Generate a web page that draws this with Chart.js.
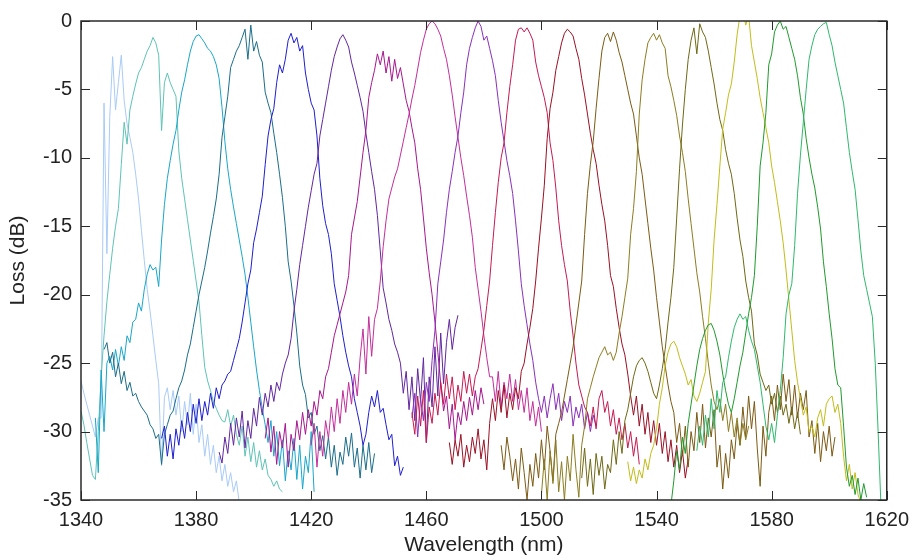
<!DOCTYPE html>
<html>
<head>
<meta charset="utf-8">
<title>Filter loss spectra</title>
<script src="https://cdn.jsdelivr.net/npm/chart.js@4.4.1/dist/chart.umd.min.js"></script>
<style>
  html, body { margin: 0; padding: 0; background: #fff; }
  #wrap { width: 917px; height: 559px; }
</style>
</head>
<body>
<div id="wrap"><canvas id="lossChart" width="917" height="559"></canvas></div>
<script>
// Axis ticks
const xTicks = [1340, 1380, 1420, 1460, 1500, 1540, 1580, 1620];
const yTicks = [-35, -30, -25, -20, -15, -10, -5, 0];

// First wavelength (nm) of each channel trace, sampled every 1 nm
const startNm = [1340, 1340, 1345, 1348, 1368, 1388, 1404, 1420, 1455, 1455, 1468, 1486, 1500, 1514, 1530, 1545, 1554];

// Loss (dB) per channel
const ch01 = [
  -26.3, -27.2, -28, -28.8, -29.6, -30.4, -29, -29, -6, -17,
  -7, -2.6, -6.5, -4.5, -2.5, -5.8, -7.5, -8.5, -9.6, -11.2,
  -13, -15.3, -17.5, -19.6, -21.2, -23, -24.8, -26.5, -32.5, -27.5,
  -26.8, -28.4, -27, -28.8, -27.4, -30, -27.8, -29.5, -27.2, -30.2,
  -28, -30.8, -29.5, -31.8, -30.2, -32.4, -31, -33, -31.8, -33.6,
  -32.4, -34, -33, -34.4, -33.6, -35.2
];
const ch02 = [
  -28.5, -29.5, -30.8, -32, -33.2, -33.5, -30, -26, -23, -20.5,
  -18.5, -16.6, -15, -13.7, -10.5, -7.4, -9, -6.5, -5.5, -4.6,
  -3.8, -3.4, -2.8, -2.2, -1.8, -1.2, -1.6, -2.5, -8, -4.5,
  -3.8, -4.5, -5, -5.5, -9.5, -11.5, -13, -14.5, -16, -17.5,
  -19, -20.5, -23, -25.3, -26.3, -27, -27.8, -28.3, -28.8, -29.2,
  -29.3, -28.4, -29.6, -28.8, -30.2, -31, -29.6, -31.8, -30.4, -32.2,
  -30.8, -32.6, -31.4, -32.8, -32, -33.2, -33.5, -34, -33.6, -34.2,
  -34.4
];
const ch03 = [
  -29, -33, -25.5, -30, -25,
  -24.5, -25.5, -24, -25.2, -23.8, -24.8, -23, -23.5, -22, -21.8,
  -20.6, -21.2, -19.6, -18.5, -17.8, -18.2, -18, -19.4, -16, -13.4,
  -11.5, -10.2, -9, -8, -6.5, -5.2, -4.3, -3.2, -2.2, -1.5,
  -1.1, -1, -1.3, -1.6, -2, -2.2, -2.6, -3.2, -4.2, -6.3,
  -8.8, -10.8, -12.3, -13.6, -14.8, -16, -17.2, -18.5, -20.2, -22,
  -23.8, -25.5, -27, -28.3, -29.5, -30.8, -29.2, -31.8, -30, -32.5,
  -30.6, -33.6, -31.4, -32.8, -30.5, -33.5, -31, -34.2, -31.8, -33,
  -30, -34.4
];
const ch04 = [
  -24, -23.5, -25, -24.2, -26, -25, -26.5, -25.6, -27, -26.4,
  -27.4, -27.2, -27.8, -28.2, -28.5, -28.8, -29.5, -29.8, -30.5, -30.2,
  -32.4, -30.2, -29.5, -28.8, -28.5, -27.6, -26.8, -26.3, -25.5, -24.4,
  -23.6, -22.4, -21.2, -20, -19, -18, -16.8, -15.5, -14.3, -13,
  -11.2, -8.5, -7, -5.5, -3.4, -2.8, -2.2, -1.8, -1.2, -0.6,
  -2.8, -0.3, -2.2, -1.5, -2.5, -3, -5.2, -6, -6.7, -8.2,
  -9.6, -11.2, -12.9, -15, -17.6, -19, -20.8, -22.8, -25.2, -26.6,
  -27.3, -29, -28.6, -30.2, -29.6, -31.4, -30.3, -32, -30.4, -32.6,
  -31, -33.2, -31.5, -32.4, -30.4, -31.8, -30.1, -32.6, -31.2, -33.4,
  -31, -32.8, -30.8, -33, -31.6
];
const ch05 = [
  -30.5, -29.6, -31.8, -30.2, -32, -29.8, -31, -29.2, -30.5, -28.6,
  -30, -28, -29.4, -27.6, -29.2, -27.8, -28.8, -27.2, -28.3, -26.8,
  -27.6, -26.6, -26.3, -25.8, -25.6, -24.8, -24, -23.2, -22, -20.6,
  -19.2, -18.2, -16.2, -15.2, -14, -12.8, -10.5, -8.4, -7.2, -6.4,
  -4.5, -3.2, -3.8, -2.8, -1.4, -0.9, -1.6, -1.2, -2.2, -1.8,
  -3.8, -5, -6, -6.5, -8.4, -11.5, -13.5, -14.8, -15.6, -17,
  -19.2, -20.4, -21.6, -23, -24.2, -25.2, -26, -27.6, -28.6, -29.6,
  -31, -30.2, -28.6, -27.4, -28.2, -27, -28.6, -28.3, -29.5, -30.6,
  -30.2, -32.5, -31.8, -33.2, -32.6
];
const ch06 = [
  -31.5, -32.3, -30.4, -31.6, -29.4, -31, -29, -30.4, -28.5, -31.2,
  -29.2, -30.5, -28.3, -29.6, -27.5, -28.8, -27.2, -28.2, -26.6, -27.8,
  -26.4, -27, -25.8, -25, -24.4, -23.2, -21.2, -19.6, -17.8, -16.4,
  -15, -13.6, -12.4, -11.2, -10.4, -8.4, -7.2, -6, -4.8, -3.6,
  -2.6, -1.9, -1.3, -1, -1.4, -1.9, -3, -3.8, -4.7, -5.6,
  -6.6, -8.2, -9.6, -11, -12.3, -14.2, -16.8, -19.5, -20.6, -21.8,
  -22.6, -23.6, -24.2, -25, -27.2, -25.6, -28.4, -26, -29.2, -25.4,
  -27.8, -24.6, -30.8, -26, -28.2, -23.8, -27.4, -22.8, -26.5, -23.5,
  -21.8, -24, -22.4, -21.5
];
const ch07 = [
  -30.5, -29, -31.5, -29.6, -32.4, -30, -31.2, -29.4, -32.6, -30.2,
  -31.4, -29.2, -30.6, -28.6, -30.2, -28.4, -29.6, -27.8, -28.8, -27,
  -27.6, -26, -25.4, -24.2, -23, -22.2, -21.4, -20.6, -19.8, -18.6,
  -15.6, -14.4, -13.2, -11.4, -9.6, -8, -5.6, -4.5, -3.6, -2.4,
  -3.2, -2.2, -3.8, -2.6, -4.4, -2.8, -4.2, -3.4, -4.6, -5.8,
  -6.6, -7.8, -8.9, -10.8, -12.3, -14.4, -16.6, -18.4, -20, -22,
  -24.2, -26.5, -28.5, -27.4, -29.8, -28, -30.6, -28.6, -29.5, -27.8,
  -29.2, -27.5, -28.8, -27, -28.4, -26.8, -28
];
const ch08 = [
  -31, -29.4, -32.6, -30, -31.8, -29.2, -30.5, -28.2, -30, -27.6,
  -29.4, -27, -28.6, -26.4, -28, -25.8, -27.4, -24.6, -22.5, -25.8,
  -21.6, -24.5, -21.8, -21, -19, -16.5, -14.6, -13, -12.2, -11.4,
  -10.8, -9.8, -8.8, -7.8, -6.8, -5.7, -4.7, -3.5, -2.3, -1.4,
  -0.6, -0.2, 0, -0.2, -0.6, -1.1, -2, -2.8, -4, -5.4,
  -7, -8.5, -10, -11.3, -12.8, -14.2, -15.8, -18, -19.6, -21.2,
  -23, -24.6, -26, -26, -27.8, -25.6, -28.2, -26.4, -27.6, -25.8,
  -27.8, -26.2, -28.4, -27, -28.6, -26.8, -29.2, -27.8, -29.6, -28.2,
  -30
];
const ch09 = [
  -29, -27.2, -30.4, -27.6, -29.2, -26.4, -27.8, -24.8, -22.6, -19.2,
  -17.6, -16, -14, -12.3, -11, -9.6, -8.4, -6.7, -5.2, -3.2,
  -2, -1.2, -0.5, 0, -0.4, -1.4, -1.1, -2, -2.9, -4,
  -5.8, -7.4, -8.8, -10.2, -11.3, -12.6, -14.6, -16.8, -19.2, -20.8,
  -22.2, -23.6, -24.8, -26.4, -27.6, -28.6, -27.4, -29, -27.6, -26.5,
  -28.4, -27.2, -29.2, -27.8, -28.6, -27.4, -29.6, -28.2, -29, -28,
  -29.8, -28.6, -30, -28.8, -29.6
];
const ch10 = [
  -28.6, -30.2, -27.4, -29.6, -27, -30.8, -28.2, -29.4, -27.2, -28.8,
  -26.4, -28, -25.8, -27.6, -26, -28.4, -26.6, -27.8, -25.6, -27.2,
  -25.8, -27.4, -26, -25.4, -24, -22.6, -20.8, -19, -16.4, -14,
  -11.8, -10, -8.9, -6.7, -4.8, -3.2, -1.4, -0.6, -0.5, -0.8,
  -0.5, -0.9, -1.4, -3, -4, -4.8, -5.6, -6.7, -8.9, -10.2,
  -12.2, -14.6, -16.4, -17.8, -19, -21.2, -23, -25, -26.6, -27.4,
  -28.2, -28.6, -29.6, -28.2, -29.8, -27.6, -27, -28.6, -27.8, -29.6,
  -28.4, -30.2, -29, -30.6, -29.4, -31.2, -30, -31.8, -30.4, -32.4
];
const ch11 = [
  -30.8, -32.4, -30.6, -31.8, -30.2, -32.6, -31, -32.2, -30.4, -31.6,
  -29.8, -32, -30.6, -32.8, -29.4, -27.6, -29.2, -27, -28.6, -26.6,
  -29, -27.2, -28.4, -26.8, -27.6, -25.6, -25, -23.6, -22.4, -21,
  -19, -16.6, -14.4, -12, -8.6, -6.4, -5.2, -3.6, -2.6, -1.6,
  -0.9, -0.6, -0.8, -1.1, -2, -2.8, -4.2, -5.4, -6.8, -8.2,
  -9.4, -10.4, -12, -13.4, -14.6, -16.4, -18.6, -19.4, -21, -22.4,
  -23.6, -24.4, -25.8, -27.4, -28.8, -27.4, -29.6, -28, -30.2, -28.6,
  -30.8, -29.2, -31, -29.4, -31.6, -30, -32.2, -30.6, -32.6, -31,
  -33, -31.4, -33.4, -32
];
const ch12 = [
  -31, -32.8, -30.4, -31.8, -33.6, -32, -34.2, -31.2, -33, -35,
  -32.4, -34, -31.6, -33.4, -30.6, -32.8, -29.6, -31.4, -33.6, -30.2,
  -29.4, -28.6, -27.4, -26.2, -25, -23.8, -22.2, -20.6, -19, -15.6,
  -12.6, -10.5, -8.8, -6.4, -4.2, -2.2, -1.2, -0.9, -1.5, -0.8,
  -1.4, -2.3, -3, -4, -5, -6, -6.8, -8.4, -10, -11.2,
  -13, -14.8, -16.6, -18.2, -20.2, -22, -23.8, -25.2, -26.6, -27.8,
  -28.6, -30.8, -29.4, -31.8, -29.6, -32.6, -30, -31.4, -28.6, -30.8,
  -28, -31.2, -29, -30.4, -28.4, -32.6, -31, -34.2, -31.6, -33.4,
  -30.6, -32, -29.4, -31, -28.2, -30.4, -27.4, -29.8, -27.8, -31.2,
  -34, -29.6, -31.8, -28.6, -27.4, -29.2, -26.6, -28.4, -25.8, -27.8,
  -26.2, -28.8, -26.6, -29, -27.2, -28.4, -27, -30.4, -29.2, -31.6,
  -29.4, -32.2, -30, -31.4, -29.6, -31.8, -30.4
];
const ch13 = [
  -34.6, -32, -35, -31.4, -33.8, -30.6, -34.4, -32.2, -35, -31.8,
  -33.6, -30.2, -32.8, -34.8, -31, -29.6, -27.6, -26.8, -26, -25.3,
  -24.6, -24.2, -23.8, -24.4, -24.2, -24.8, -24.2, -22.8, -21.6, -20.2,
  -18.8, -15.6, -13.7, -11, -6.8, -4.3, -2.8, -1.6, -1.2, -0.9,
  -1.4, -1, -1.6, -2, -4, -4.8, -5.8, -6.9, -8.4, -9.6,
  -11, -13, -14.8, -16.6, -18.4, -19.8, -21.6, -23.2, -25, -26.6,
  -27.8, -28.4, -27.6, -29.2, -28, -30, -28.6, -30.4, -29, -31,
  -29.4, -30.6, -29.6
];
const ch14 = [
  -33.4, -31.2, -34, -32, -34.6, -31.6, -33.2, -31.8, -34.2, -32.4,
  -33, -30.6, -32.4, -30, -31.6, -29.2, -28.4, -27.2, -26, -25.2,
  -24.8, -24.6, -25, -25.6, -26.4, -27.2, -27.6, -26.6, -25.4, -24,
  -22, -20.2, -18, -14.4, -10.8, -7.6, -5, -2.8, -1.4, -0.5,
  -2.4, -0.2, -0.8, -1.2, -2.2, -3.4, -4.6, -6, -7.2, -8,
  -9.4, -10.4, -11.2, -12.6, -14.4, -16, -17.2, -19, -20.2, -21.2,
  -23.6, -24.4, -25.8, -26.4, -27, -26.6, -28, -27.2, -28.6, -27.4,
  -28.8, -28, -29.4, -28.2, -29.8, -28.6, -30.2
];
const ch15 = [
  -32.2, -33.6, -32.6, -33.8, -32.8, -33.4, -32, -32.8, -31.6, -31,
  -29.8, -28, -26.8, -25.2, -24.2, -23.6, -23.4, -23.8, -24.6, -25.2,
  -25.8, -26.6, -26.2, -27.4, -27.8, -27.2, -26.4, -25.6, -22, -19.6,
  -16, -13.4, -10.6, -7.9, -6.7, -5.4, -4.6, -3, -1, 0.4,
  0.8, -0.3, 0.4, -1.8, -3, -4.2, -5.6, -6.7, -7.8, -8.9,
  -10.6, -11.8, -13.2, -14.6, -16.2, -18.2, -20.4, -22.6, -24.8, -26.4,
  -27.6, -28.8, -28.2, -30, -29.6, -30.4, -29, -28.4, -29.6, -28,
  -27.6, -27.4, -28.6, -28, -29.4, -31.8, -33.6, -32.4, -34.2, -33,
  -34.6, -35.2
];
const ch16 = [
  -35.4, -33.6, -31.4, -32.8, -30.4, -31.6, -29.4, -28, -26.6, -25.2,
  -24, -23.2, -22.6, -22.2, -22.1, -22.6, -23.4, -24.4, -25.8, -27,
  -28, -28.6, -27.6, -26.4, -25.2, -24.2, -22.8, -21.4, -20.2, -18.6,
  -15, -10.6, -8.9, -6.7, -3.2, -2.4, -0.8, -0.3, 0, -0.6,
  -0.4, -1.2, -2, -2.8, -4, -5.6, -6.8, -8.6, -10, -11.2,
  -12.2, -13.6, -15.2, -17.6, -19.4, -21.4, -23.2, -25.4, -26.6, -26.8,
  -29.6, -32.6, -34, -33.2, -34.6, -33.4, -35, -33.8, -34.8
];
const ch17 = [
  -31.4, -29.6, -31, -28.8, -30.4, -27.6, -29.8, -27, -28.6, -26.4,
  -26, -24.6, -23.4, -22.4, -21.8, -21.4, -21.8, -21.6, -22.6, -23.4,
  -24, -25.2, -26.4, -28, -29.6, -30.6, -29.4, -30.8, -28.8, -27,
  -24.6, -21.4, -20, -19.2, -16.4, -12.6, -9.8, -7.4, -5, -2.8,
  -1.8, -1, -0.6, -0.4, -0.2, -0.1, -1, -1.8, -3, -4,
  -5, -6, -7.8, -9.6, -11, -12.3, -14.5, -16.8, -18.6, -19.6,
  -20.6, -21.6, -25, -30, -35.5
];

const channels = [ch01, ch02, ch03, ch04, ch05, ch06, ch07, ch08, ch09, ch10, ch11, ch12, ch13, ch14, ch15, ch16, ch17];

// Line colours, one per channel
const palette = ['#a9cbf5', '#5ec3b5', '#19a6c9', '#1b6d8a', '#1e1ecf', '#62269e', '#a6168f', '#c22e9c', '#8a30b8',
                 '#c41a50', '#9a1024', '#7c5a14', '#8c7c22', '#6e6814', '#c2bc1a', '#1f9a2c', '#2fb86c'];

// Build datasets; the last channel goes first so it is drawn on top
const datasets = [];
for (let i = channels.length - 1; i >= 0; i--) {
    datasets.push({
        label: 'Channel ' + (i + 1),
        data: channels[i].map((v, k) => ({ x: startNm[i] + k, y: v })),
        borderColor: palette[i],
        borderWidth: 1,
        pointRadius: 0,
        tension: 0,
        fill: false
    });
}

// Box round the plot with inward tick marks on all four sides
const frameTicks = {
    id: 'frameTicks',
    afterDatasetsDraw(chart) {
        const { ctx, chartArea: a, scales: { x, y } } = chart;
        const len = 9;
        ctx.save();
        ctx.strokeStyle = '#2a2a2a';
        ctx.lineWidth = 1;
        ctx.beginPath();
        xTicks.forEach(v => {
            const px = Math.round(x.getPixelForValue(v)) + 0.5;
            ctx.moveTo(px, a.bottom); ctx.lineTo(px, a.bottom - len);
            ctx.moveTo(px, a.top); ctx.lineTo(px, a.top + len);
        });
        yTicks.forEach(v => {
            const py = Math.round(y.getPixelForValue(v)) + 0.5;
            ctx.moveTo(a.left, py); ctx.lineTo(a.left + len, py);
            ctx.moveTo(a.right, py); ctx.lineTo(a.right - len, py);
        });
        ctx.stroke();
        ctx.lineWidth = 1.5;
        ctx.strokeRect(a.left, a.top, a.right - a.left, a.bottom - a.top);
        ctx.restore();
    }
};

const tickFont = { family: '"Liberation Sans", Arial, sans-serif', size: 20 };
const titleFont = { family: '"Liberation Sans", Arial, sans-serif', size: 21 };

new Chart(document.getElementById('lossChart').getContext('2d'), {
    type: 'line',
    data: { datasets: datasets },
    options: {
        responsive: false,
        animation: false,
        devicePixelRatio: 1,
        layout: { padding: { top: 18, right: 25, left: 0, bottom: 0 } },
        plugins: { legend: { display: false }, tooltip: { enabled: false } },
        scales: {
            x: {
                type: 'linear',
                min: 1340,
                max: 1620,
                grid: { display: false, drawTicks: false },
                border: { display: false },
                ticks: {
                    stepSize: 40,
                    maxRotation: 0,
                    padding: 8,
                    color: '#222',
                    font: tickFont,
                    callback: v => String(v)
                },
                title: {
                    display: true,
                    text: 'Wavelength (nm)',
                    color: '#222',
                    font: titleFont,
                    padding: { top: 0, bottom: 1 }
                },
                afterFit: s => { s.height = 59; }
            },
            y: {
                type: 'linear',
                min: -35,
                max: 0,
                grid: { display: false, drawTicks: false },
                border: { display: false },
                ticks: {
                    stepSize: 5,
                    padding: 9,
                    color: '#222',
                    font: tickFont,
                    callback: v => String(v)
                },
                title: {
                    display: true,
                    text: 'Loss (dB)',
                    color: '#222',
                    font: titleFont,
                    padding: { top: 6, bottom: 0 }
                },
                afterFit: s => { s.width = 81; }
            }
        }
    },
    plugins: [frameTicks]
});
</script>
</body>
</html>
